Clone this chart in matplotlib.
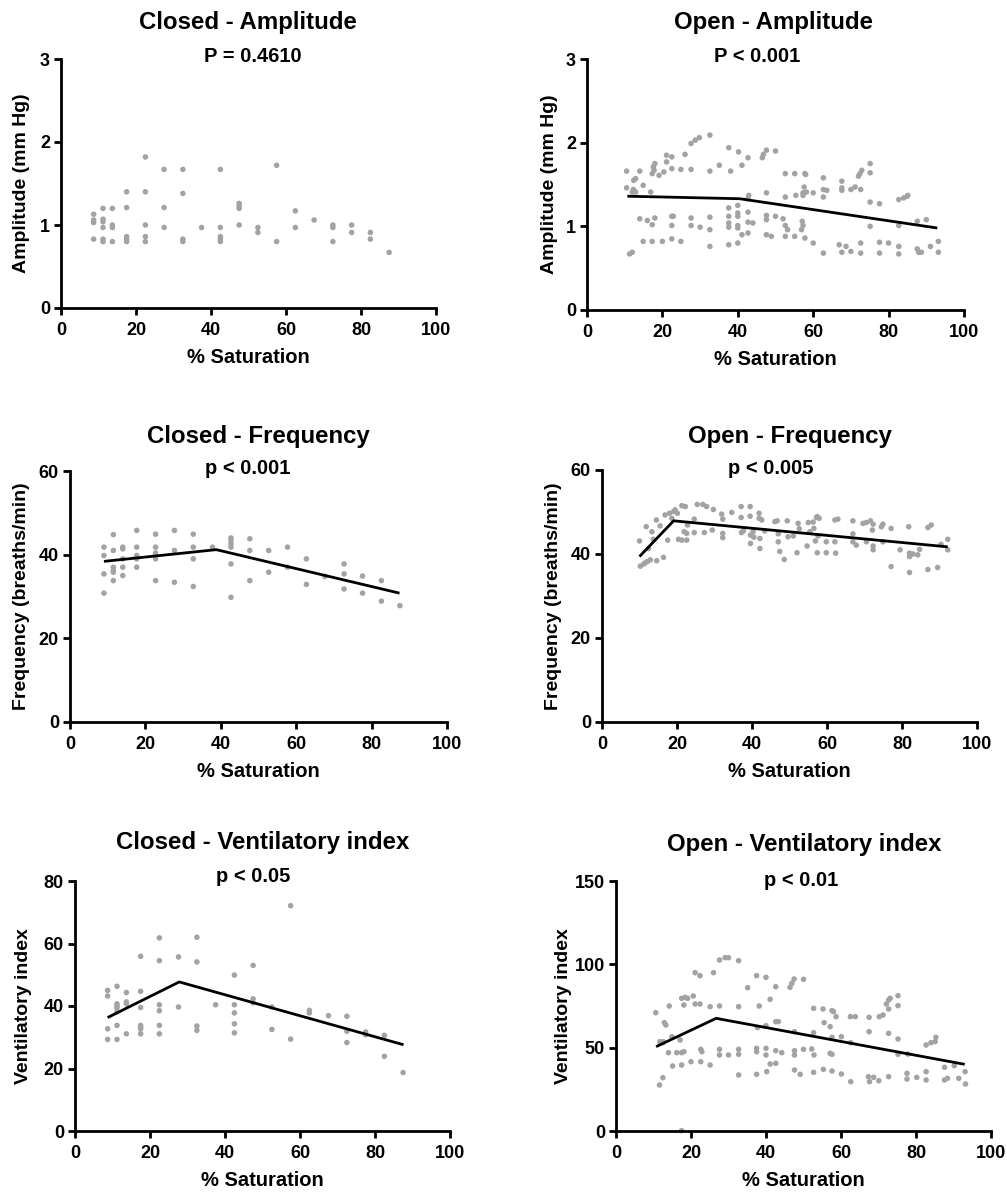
import matplotlib
matplotlib.use("Agg")
import matplotlib.pyplot as plt

plt.rcParams['font.family'] = ['Liberation Sans', 'DejaVu Sans']
plt.rcParams['font.weight'] = 'bold'

# ---------------- data ----------------
x_ticks = [0, 20, 40, 60, 80, 100]

# Closed - Amplitude
closed_amp_x = [8.7, 8.7, 8.7, 8.7,
                11.2, 11.2, 11.2, 11.2, 11.2, 11.2,
                13.7, 13.7, 13.7, 13.7,
                17.5, 17.5, 17.5, 17.5, 17.5,
                22.5, 22.5, 22.5, 22.5, 22.5,
                27.5, 27.5, 27.5,
                32.5, 32.5, 32.5, 32.5,
                37.5,
                42.5, 42.5, 42.5, 42.5, 42.5,
                47.5, 47.5, 47.5, 47.5,
                52.5, 52.5,
                57.5, 57.5,
                62.5, 62.5,
                67.5,
                72.5, 72.5, 72.5,
                77.5, 77.5,
                82.5, 82.5,
                87.5]
closed_amp_y = [1.13, 1.06, 1.03, 0.83,
                1.20, 1.07, 1.04, 0.97, 0.83, 0.80,
                1.20, 1.00, 0.97, 0.80,
                1.40, 1.21, 0.86, 0.83, 0.80,
                1.82, 1.40, 1.00, 0.86, 0.80,
                1.67, 1.21, 0.97,
                1.67, 1.38, 0.83, 0.80,
                0.97,
                1.67, 0.97, 0.86, 0.83, 0.80,
                1.26, 1.23, 1.20, 1.00,
                0.97, 0.91,
                1.72, 0.80,
                1.17, 0.97,
                1.06,
                1.00, 0.97, 0.80,
                1.00, 0.91,
                0.91, 0.83,
                0.67]

# Open - Amplitude
open_amp_x = [10.5, 14.0, 12.9, 12.4, 14.9, 10.5, 12.3, 12.0, 12.9, 16.9, 17.6, 18.0, 17.8, 17.3,
              19.1, 20.4, 21.1, 21.1, 22.5, 22.5, 24.9, 26.0, 27.6, 27.6, 28.7, 29.8, 32.6, 32.6,
              35.1, 37.6, 38.1, 40.2, 41.1, 42.7, 46.5, 46.8, 47.6, 50.0, 47.6, 52.6, 55.1, 57.8,
              58.0, 52.6, 55.4, 57.3, 57.6, 58.2, 57.3, 60.0, 62.7, 62.7, 63.6, 62.7, 67.6, 67.6,
              67.6, 70.0, 71.1, 72.6, 72.0, 72.4, 72.9, 75.1, 75.1, 75.1, 77.6, 82.7, 84.0, 84.9,
              85.1, 87.6, 90.0, 42.9, 42.7,
              14.0, 16.0, 17.3, 18.0, 22.5, 22.5, 22.9, 27.6, 27.6, 30.0, 32.6, 32.6, 37.6, 37.6,
              37.6, 37.6, 40.0, 40.0, 40.0, 40.0, 40.0, 42.7, 42.7, 44.0, 42.7, 41.1, 47.6, 47.6,
              47.6, 48.9, 50.0, 52.0, 52.6, 53.2, 57.1, 57.3, 56.9, 52.6, 55.1, 57.8, 60.0, 75.1,
              82.7,
              11.3, 12.0, 14.9, 17.3, 20.0, 22.5, 24.9, 32.6, 37.6, 40.0, 62.7, 66.9, 67.6, 68.7,
              70.0, 72.6, 72.6, 77.6, 77.6, 80.0, 82.7, 82.7, 87.6, 88.0, 88.7, 91.1, 93.2, 93.2]
open_amp_y = [1.66, 1.66, 1.57, 1.55, 1.49, 1.46, 1.44, 1.41, 1.41, 1.41, 1.71, 1.75, 1.67, 1.63,
              1.61, 1.65, 1.85, 1.77, 1.83, 1.69, 1.68, 1.86, 1.68, 1.99, 2.03, 2.06, 2.09, 1.66,
              1.73, 1.94, 1.66, 1.89, 1.73, 1.82, 1.82, 1.86, 1.91, 1.90, 1.40, 1.63, 1.63, 1.63,
              1.62, 1.35, 1.37, 1.37, 1.47, 1.41, 1.40, 1.40, 1.58, 1.44, 1.43, 1.35, 1.54, 1.46,
              1.43, 1.44, 1.47, 1.44, 1.60, 1.63, 1.67, 1.75, 1.64, 1.29, 1.27, 1.32, 1.34, 1.36,
              1.37, 1.06, 1.08, 1.37, 1.33,
              1.09, 1.07, 1.02, 1.10, 1.12, 1.01, 1.12, 1.10, 1.01, 0.99, 1.11, 0.96, 1.22, 1.12,
              0.99, 1.04, 1.25, 1.16, 1.12, 1.01, 0.98, 1.17, 1.05, 1.04, 0.92, 0.90, 1.13, 1.08,
              0.90, 0.88, 1.12, 1.09, 1.01, 0.96, 1.06, 1.01, 0.96, 0.88, 0.88, 0.86, 0.80, 1.00,
              1.01,
              0.67, 0.69, 0.82, 0.82, 0.82, 0.85, 0.82, 0.76, 0.78, 0.80, 0.68, 0.78, 0.69, 0.76,
              0.70, 0.80, 0.68, 0.81, 0.68, 0.80, 0.76, 0.67, 0.73, 0.69, 0.69, 0.76, 0.82, 0.69]
open_amp_fit_x = [10.7, 40.5, 92.9]
open_amp_fit_y = [1.36, 1.33, 0.98]

# Closed - Frequency
closed_freq_x = [9.0, 9.0, 9.0, 9.0,
                 11.5, 11.5, 11.5, 11.5, 11.5, 11.5,
                 14.0, 14.0, 14.0, 14.0, 14.0,
                 17.7, 17.7, 17.7, 17.7, 17.7,
                 22.7, 22.7, 22.7, 22.7, 22.7, 22.7,
                 27.7, 27.7, 27.7,
                 32.7, 32.7, 32.7, 32.7,
                 37.8,
                 42.7, 42.7, 42.7, 42.7, 42.7, 42.7,
                 47.7, 47.7, 47.7,
                 52.7, 52.7,
                 57.7, 57.7,
                 62.7, 62.7,
                 67.6,
                 72.7, 72.7, 72.7,
                 77.6, 77.6,
                 82.6, 82.6,
                 87.5]
closed_freq_y = [41.8, 39.8, 35.4, 30.8,
                 44.8, 41.0, 37.0, 36.2, 35.8, 33.8,
                 41.8, 41.4, 39.0, 37.0, 35.0,
                 45.8, 41.8, 39.8, 39.0, 37.0,
                 44.9, 41.8, 40.4, 39.8, 39.0, 33.8,
                 45.8, 41.0, 33.4,
                 44.9, 41.8, 39.0, 32.4,
                 41.8,
                 44.0, 43.4, 42.6, 41.8, 37.8, 29.8,
                 43.8, 41.0, 33.8,
                 41.0, 35.8,
                 41.8, 37.0,
                 39.0, 32.9,
                 34.8,
                 37.8, 35.4, 31.8,
                 34.9, 30.8,
                 33.8, 28.9,
                 27.8]
closed_freq_fit_x = [9.0, 38.8, 87.4]
closed_freq_fit_y = [38.4, 41.2, 30.8]

# Open - Frequency
open_freq_x = [10.0, 10.2, 11.1, 11.5, 12.1, 12.9, 14.6, 16.4, 11.8, 12.4, 13.3, 13.7, 14.5, 15.5,
               16.8, 17.5, 18.0, 18.6, 19.1, 19.5, 20.1, 20.4, 21.3, 22.2, 21.9, 21.3, 22.6, 22.6,
               22.8, 24.6, 24.6, 25.4, 26.9, 27.3, 27.9, 29.4, 29.7, 31.9, 32.2, 32.2, 32.2, 34.6,
               37.1, 37.1, 37.2, 37.7, 39.5, 39.5, 39.6, 39.6, 40.3, 40.5, 41.9, 41.9, 42.1, 42.1,
               42.6, 43.4, 46.1, 46.7, 47.0, 47.0, 47.4, 48.6, 49.4, 49.6, 51.0, 52.0, 52.3, 52.6,
               55.0, 54.7, 55.4, 56.3, 56.5, 56.9, 57.2, 57.4, 57.6, 57.9, 57.4, 59.8, 59.8, 62.1,
               62.1, 62.3, 62.9, 66.9, 66.9, 66.9, 67.8, 69.6, 70.5, 70.5, 71.6, 72.1, 72.3, 72.3,
               72.3, 74.5, 74.9, 74.9, 77.1, 77.1, 79.5, 81.8, 82.0, 82.0, 82.0, 82.9, 84.2, 84.7,
               86.9, 87.8, 86.9, 89.5, 90.4, 92.2, 92.2]
open_freq_y = [43.1, 37.1, 37.6, 37.9, 38.2, 38.6, 38.4, 39.2, 46.5, 41.3, 45.3, 43.5, 48.1, 46.7,
               49.3, 43.3, 49.7, 48.5, 50.1, 50.5, 49.7, 43.5, 51.5, 51.3, 45.3, 43.3, 43.3, 44.9,
               46.9, 48.3, 45.1, 51.8, 51.8, 45.1, 51.3, 45.7, 50.6, 49.5, 48.3, 44.9, 43.9, 49.9,
               51.3, 48.7, 45.1, 45.5, 51.3, 49.0, 44.5, 42.5, 45.3, 44.0, 49.7, 48.5, 43.7, 41.3,
               48.1, 45.5, 47.7, 47.9, 44.8, 42.9, 40.6, 38.7, 47.9, 44.1, 44.3, 40.3, 47.3, 46.0,
               47.5, 41.9, 45.3, 47.6, 46.1, 43.1, 48.7, 48.9, 44.3, 48.5, 40.3, 40.3, 42.9, 42.9,
               48.1, 40.2, 48.3, 47.9, 44.8, 42.9, 42.1, 47.3, 42.9, 47.5, 47.9, 45.7, 47.1, 41.9,
               41.0, 46.5, 47.1, 42.9, 46.1, 37.0, 41.0, 46.5, 40.2, 39.4, 35.6, 40.0, 39.8, 41.1,
               46.3, 46.9, 36.3, 36.8, 42.3, 43.5, 41.0]
open_freq_fit_x = [10.0, 19.1, 92.2]
open_freq_fit_y = [39.4, 47.9, 41.7]

# Closed - Ventilatory index
closed_vi_x = [8.7, 8.7, 8.7, 8.7,
               11.2, 11.2, 11.2, 11.2, 11.2, 11.2, 11.2,
               13.7, 13.7, 13.7, 13.7,
               17.5, 17.5, 17.5, 17.5, 17.5, 17.5, 17.5,
               22.5, 22.5, 22.5, 22.5, 22.5, 22.5,
               27.6, 27.6,
               32.5, 32.5, 32.5, 32.5,
               37.5,
               42.5, 42.5, 42.5, 42.5, 42.5,
               47.5, 47.5, 47.5,
               52.5, 52.5,
               57.5, 57.5,
               62.5, 62.5,
               67.6,
               72.5, 72.5, 72.5,
               77.5, 77.5,
               82.5, 82.5,
               87.5]
closed_vi_y = [45.0, 43.2, 32.7, 29.3,
               46.3, 40.7, 40.0, 39.4, 38.1, 33.8, 29.3,
               44.3, 41.3, 40.7, 31.1,
               55.9, 44.7, 39.5, 33.8, 33.3, 32.7, 31.1,
               61.8, 54.5, 40.4, 38.5, 33.8, 31.1,
               55.7, 39.7,
               62.0, 54.1, 33.6, 32.2,
               40.4,
               49.9, 40.4, 37.8, 34.3, 31.4,
               53.0, 42.3, 41.0,
               39.7, 32.5,
               72.1, 29.4,
               38.6, 37.8,
               36.9,
               36.7, 31.9, 28.3,
               31.7, 30.8,
               30.6, 23.9,
               18.7]
closed_vi_fit_x = [8.7, 27.8, 87.6]
closed_vi_fit_y = [36.3, 47.7, 27.6]

# Open - Ventilatory index
open_vi_x = [10.6, 11.6, 12.5, 12.6, 12.9, 13.3, 11.7, 12.5, 14.0, 14.2, 14.9, 15.1, 16.2, 17.1,
             17.5, 18.1, 17.5, 17.5, 17.5, 18.4, 19.1, 18.1, 20.6, 21.1, 22.4, 20.0, 21.1, 22.4,
             22.6, 22.9, 22.6, 25.1, 25.1, 26.0, 27.6, 29.1, 30.0, 32.7, 27.6, 27.6, 27.6, 30.0,
             32.7, 32.7, 32.7, 32.7, 35.1, 37.5, 37.5, 37.5, 38.2, 37.7, 37.5, 40.0, 41.1, 40.0,
             40.0, 40.0, 40.2, 41.1, 42.6, 42.6, 43.3, 42.6, 42.6, 44.2, 46.4, 46.9, 47.5, 50.0,
             47.6, 47.6, 47.6, 47.6, 49.1, 50.0, 52.2, 52.7, 52.7, 52.8, 52.7, 55.2, 55.3, 55.5,
             57.1, 57.6, 58.0, 57.1, 57.6, 57.6, 57.6, 58.7, 60.1, 60.1, 62.6, 62.5, 63.8, 62.6,
             67.5, 67.5, 67.3, 67.6, 68.7, 70.2, 70.1, 71.2, 72.1, 72.7, 73.1, 72.7, 72.7, 72.7,
             75.2, 75.2, 75.2, 75.2, 77.8, 77.6, 77.6, 80.2, 82.7, 82.7, 82.7, 84.0, 85.1, 85.3,
             87.6, 87.6, 88.4, 90.2, 91.4, 93.1, 93.2]
open_vi_y = [71.0, 27.6, 32.0, 53.6, 65.0, 63.6, 53.6, 53.0, 47.0, 75.0, 56.6, 39.0, 47.0, 54.6,
             47.0, 47.6, 39.6, 0.2, 79.6, 80.2, 79.6, 75.6, 81.0, 76.2, 76.2, 41.6, 95.0, 93.2,
             49.0, 47.6, 41.6, 74.6, 39.6, 95.0, 102.6, 104.0, 104.0, 102.2, 75.0, 49.0, 45.6, 45.6,
             49.0, 46.0, 74.6, 33.6, 86.0, 93.2, 49.6, 47.6, 75.0, 62.0, 34.0, 92.2, 79.0, 63.2,
             49.6, 45.6, 35.6, 40.2, 86.6, 65.6, 65.6, 40.6, 48.2, 47.0, 86.2, 88.6, 91.2, 91.0,
             59.6, 48.2, 45.6, 36.6, 34.0, 49.0, 49.2, 73.6, 59.0, 45.6, 35.2, 73.2, 37.0, 65.0,
             62.6, 72.2, 71.6, 46.6, 46.0, 56.2, 36.0, 68.6, 56.6, 34.2, 53.0, 68.6, 68.6, 29.6,
             68.2, 59.6, 32.6, 29.6, 32.2, 68.6, 30.2, 69.6, 76.2, 78.6, 79.6, 73.2, 58.6, 32.6,
             81.2, 75.2, 55.2, 46.0, 46.2, 34.6, 31.2, 32.2, 51.6, 35.6, 30.6, 53.0, 53.6, 56.2,
             38.2, 30.6, 31.6, 39.2, 31.6, 35.6, 28.2]
open_vi_fit_x = [10.7, 26.7, 93.0]
open_vi_fit_y = [50.6, 67.6, 40.0]

titles = ["Closed - Amplitude", "Open - Amplitude",
          "Closed - Frequency", "Open - Frequency",
          "Closed - Ventilatory index", "Open - Ventilatory index"]
p_labels = ["P = 0.4610", "P < 0.001", "p < 0.001", "p < 0.005", "p < 0.05", "p < 0.01"]
y_labels = ["Amplitude (mm Hg)", "Amplitude (mm Hg)",
            "Frequency (breaths/min)", "Frequency (breaths/min)",
            "Ventilatory index", "Ventilatory index"]
y_ticks = [[0, 1, 2, 3], [0, 1, 2, 3], [0, 20, 40, 60], [0, 20, 40, 60],
           [0, 20, 40, 60, 80], [0, 50, 100, 150]]

scatter_x = [closed_amp_x, open_amp_x, closed_freq_x, open_freq_x, closed_vi_x, open_vi_x]
scatter_y = [closed_amp_y, open_amp_y, closed_freq_y, open_freq_y, closed_vi_y, open_vi_y]
fit_x = [None, open_amp_fit_x, closed_freq_fit_x, open_freq_fit_x, closed_vi_fit_x, open_vi_fit_x]
fit_y = [None, open_amp_fit_y, closed_freq_fit_y, open_freq_fit_y, closed_vi_fit_y, open_vi_fit_y]

# ---------------- layout (pixels) ----------------
W, H = 1007, 1199
fig = plt.figure(figsize=(W / 100, H / 100), dpi=100)

# left, right, top, bottom of each axes in pixels
boxes = [(61, 436, 59, 308), (587, 964, 59, 310),
         (70, 447, 471, 722), (602, 977, 470, 722),
         (75, 450, 881, 1131), (616, 991, 881, 1131)]
title_pos = [(248, 22), (774, 22), (258, 437), (790, 437), (263, 843), (804, 844)]
p_pos = [(253, 56), (757, 56), (248, 468), (771, 468), (253, 877), (801, 880)]
ylabel_px = [30, 558, 30, 562, 32, 572]
xlabel_gap = 40

grey = '#a3a3a3'
lw = 2.0

for i in range(6):
    l, r, t, b = boxes[i]
    ax = fig.add_axes([l / W, 1 - b / H, (r - l) / W, (b - t) / H])
    ax.scatter(scatter_x[i], scatter_y[i], s=16, color=grey, edgecolors='none',
               clip_on=False, zorder=2)
    if fit_x[i] is not None:
        ax.plot(fit_x[i], fit_y[i], color='black', lw=2.0, zorder=3,
                solid_capstyle='butt')
    ax.set_xlim(0, 100)
    ax.set_ylim(y_ticks[i][0], y_ticks[i][-1])
    ax.set_xticks(x_ticks)
    ax.set_yticks(y_ticks[i])
    for s in ['top', 'right']:
        ax.spines[s].set_visible(False)
    for s in ['left', 'bottom']:
        ax.spines[s].set_linewidth(lw)
    ax.tick_params(axis='both', direction='out', length=5, width=lw,
                   labelsize=13, pad=3)
    ax.tick_params(axis='x', pad=5)
    for lab in ax.get_xticklabels() + ax.get_yticklabels():
        lab.set_fontweight('bold')
    ax.set_xlabel('% Saturation', fontsize=14.5, fontweight='bold')
    ax.xaxis.set_label_coords(0.5, -(xlabel_gap) / (b - t))
    ax.set_ylabel(y_labels[i], fontsize=14, fontweight='bold')
    ax.yaxis.set_label_coords((ylabel_px[i] - l) / (r - l), 0.5)
    tx, ty = title_pos[i]
    fig.text(tx / W, 1 - ty / H, titles[i], ha='center', va='center',
             fontsize=17.3, fontweight='bold')
    px, py = p_pos[i]
    fig.text(px / W, 1 - py / H, p_labels[i], ha='center', va='center',
             fontsize=14.5, fontweight='bold')

fig.savefig('out.png', dpi=100, facecolor='white')
